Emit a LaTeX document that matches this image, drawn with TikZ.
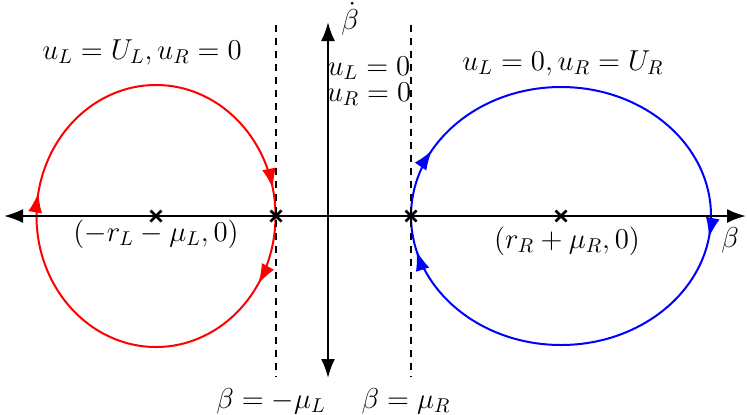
\documentclass[tikz,border=0pt]{standalone}
\usetikzlibrary{arrows.meta,decorations.markings}
\begin{document}
\begin{tikzpicture}[x=0.5pt,y=0.5pt,
  lbl/.style={font=\fontsize{13.6}{16}\selectfont, inner sep=0pt},
  axisline/.style={line width=1.1pt},
  axtip/.style={-{Latex[length=9.5pt,width=7pt]}},
  guide/.style={line width=1pt, dash pattern=on 3.5pt off 3pt},
  orbit/.style={line width=1pt},
  crossline/.style={line width=1.3pt}
]
\useasboundingbox (0,0) rectangle (747,414);
% coordinates
\coordinate (O) at (328,198);
\coordinate (xl) at (4,198);
\coordinate (xr) at (746,198);
\coordinate (yt) at (328,392);
\coordinate (yb) at (328,36);
\coordinate (cL) at (156,198);
\coordinate (cR) at (561,198);
\coordinate (pL) at (276,198);
\coordinate (pR) at (411,198);
\coordinate (dLt) at (276,389);
\coordinate (dLb) at (276,37);
\coordinate (dRt) at (411,389);
\coordinate (dRb) at (411,37);
% orbits
\draw[orbit, red, postaction={decorate}, decoration={markings,
   mark=at position 0.03 with {\arrow{Latex[length=10pt,width=7pt]}},
   mark=at position 0.465 with {\arrow{Latex[length=10pt,width=7pt]}},
   mark=at position 0.59 with {\arrow{Latex[length=10pt,width=7pt]}}}]
   (cL) ++(-119.5,0) arc[start angle=180, end angle=-180, x radius=119.5, y radius=131];
\draw[orbit, blue, postaction={decorate}, decoration={markings,
   mark=at position 0.08 with {\arrow{Latex[length=10pt,width=7pt]}},
   mark=at position 0.525 with {\arrow{Latex[length=10pt,width=7pt]}},
   mark=at position 0.96 with {\arrow{Latex[length=10pt,width=7pt]}}}]
   (cR) ++(-150,0) arc[start angle=180, end angle=-180, x radius=150, y radius=129];
% guides
\draw[guide] (dLt) -- (dLb);
\draw[guide] (dRt) -- (dRb);
% axes
\draw[axisline, axtip] (O) -- (xl);
\draw[axisline, axtip] (O) -- (xr);
\draw[axisline, axtip] (O) -- (yt);
\draw[axisline, axtip] (O) -- (yb);
% crosses
\foreach \p in {cL,cR,pL,pR}{
  \draw[crossline] (\p) ++(-5.5,-5.5) -- ++(11,11);
  \draw[crossline] (\p) ++(-5.5,5.5) -- ++(11,-11);
}
% labels
\node[lbl] (t1) at (142,362) {$u_L=U_L, u_R=0$};
\node[lbl] (t2) at (563,351) {$u_L=0, u_R=U_R$};
\node[lbl] (t3) at (369,346) {$u_L=0$};
\node[lbl] (t4) at (369,320) {$u_R=0$};
\node[lbl] (t5) at (350,395) {$\dot\beta$};
\node[lbl] (t6) at (730,174) {$\beta$};
\node[lbl] (t7) at (156,180) {$(-r_L-\mu_L,0)$};
\node[lbl] (t8) at (567,173) {$(r_R+\mu_R,0)$};
\node[lbl] (t9) at (271,13) {$\beta=-\mu_L$};
\node[lbl] (t10) at (406,13) {$\beta=\mu_R$};
\end{tikzpicture}
\end{document}
